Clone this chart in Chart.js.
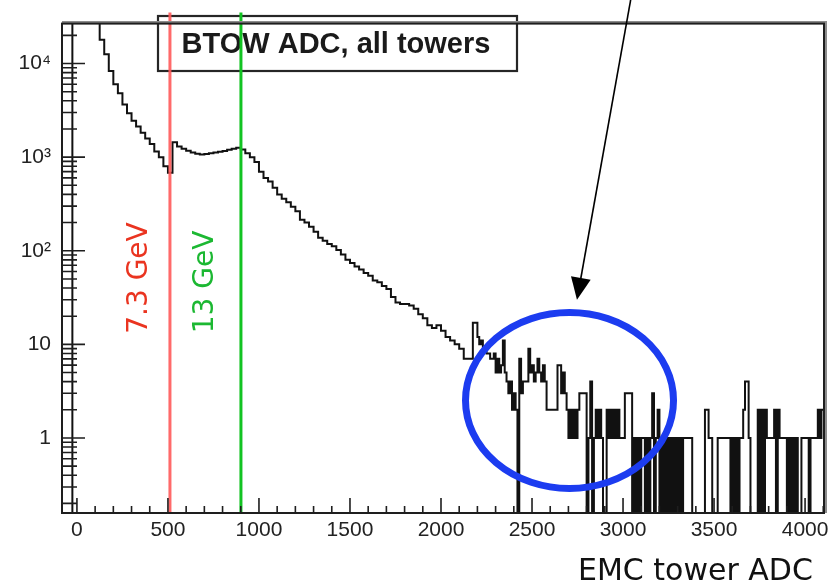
<!DOCTYPE html>
<html>
<head>
<meta charset="utf-8">
<script src="https://cdn.jsdelivr.net/npm/chart.js@4.4.1/dist/chart.umd.min.js"></script>
<style>
  html, body { margin: 0; padding: 0; background: #fff; }
</style>
</head>
<body>
<canvas id="adc" width="839" height="586"></canvas>
<script>
// BTOW ADC spectrum, all towers, log y

// coarse bins, 25 ADC wide, from -25 up to 2200
const coarseStart = -25;
const coarseWidth = 25;
const coarseCounts = [
  60000, 250000, 180000, 110000, 70000, 40000,
  18000, 12600, 8300, 6000, 4800, 3650, 2950, 2450, 2130, 1820, 1580, 1380, 1150, 1000,
  800, 680,
  1440, 1300, 1230, 1170, 1120, 1090, 1070, 1080, 1100, 1120, 1140, 1160, 1200, 1230, 1260,
  1210, 1100, 1000, 890, 700, 600, 550, 470, 400, 360, 330, 295,
  265, 215, 200, 180, 160, 138, 128, 118, 112, 102, 91, 80,
  74, 68, 63, 58, 54, 48, 46, 42, 39, 32, 28, 27,
  27, 26, 24, 21, 19, 16, 15, 16, 14, 12, 11, 10,
  9, 7, 7, 17
];

// fine bins, 10 ADC wide, from 2200 up to 4100
const fineStart = 2200;
const fineWidth = 10;
const fineCounts = [
  12, 10, 11, 9, 9, 8, 8, 7, 7, 8,
  5, 7, 5, 6, 11, 5, 4, 3, 4, 2,
  3, 2, 0, 7, 3, 4, 4, 4, 9, 5,
  6, 4, 5, 7, 5, 4, 6, 4, 2, 2,
  2, 2, 2, 2, 6, 6, 3, 5, 3, 2,
  1, 2, 1, 2, 1, 2, 3, 3, 3, 3,
  0, 1, 4, 0, 1, 2, 1, 2, 1, 0,
  0, 2, 1, 2, 1, 2, 1, 2, 1, 1,
  1, 3, 3, 3, 3, 0, 1, 0, 1, 0,
  1, 1, 0, 1, 0, 1, 3, 0, 1, 2,
  0, 1, 0, 1, 0, 1, 0, 1, 0, 1,
  0, 1, 0, 1, 1, 1, 1, 1, 0, 0,
  0, 0, 0, 0, 0, 2, 2, 1, 1, 0,
  0, 0, 1, 1, 1, 1, 1, 1, 1, 0,
  1, 0, 1, 0, 1, 1, 2, 4, 4, 1,
  0, 0, 0, 0, 2, 0, 2, 0, 2, 1,
  1, 1, 1, 2, 0, 2, 1, 1, 1, 1,
  0, 1, 0, 1, 0, 1, 0, 0, 1, 1,
  1, 1, 0, 1, 1, 1, 1, 2, 1, 2
];

// trigger thresholds
const thresholdAdc = [511, 901];
const thresholdLabels = ['7.3 GeV', '13 GeV'];
const thresholdLineColors = ['rgba(255, 90, 90, 0.9)', '#12c322'];
const thresholdTextColors = ['#ea3420', '#1cb832'];

const xTickValues = [0, 500, 1000, 1500, 2000, 2500, 3000, 3500, 4000];
const yDecades = [1, 10, 100, 1000, 10000];
const yDecadeLabels = ['1', '10', '10\u00b2', '10\u00b3', '10\u2074'];

const X_MIN = -82, X_MAX = 4104;
const Y_MIN = 0.158, Y_MAX = 26700;

// minor log ticks 2..9 inside every decade
const yTickValues = [];
[0.1, 1, 10, 100, 1000, 10000].forEach(d => {
  for (let k = 1; k <= 9; k++) {
    const v = k * d;
    if (v >= Y_MIN && v <= Y_MAX) yTickValues.push(v);
  }
});

// step-histogram outline: one point per low edge, empty bins sit on the axis floor
function histPoints() {
  const pts = [{ x: coarseStart, y: Y_MIN }];
  coarseCounts.forEach((c, i) => pts.push({ x: coarseStart + i * coarseWidth, y: c > 0 ? c : Y_MIN }));
  fineCounts.forEach((c, i) => pts.push({ x: fineStart + i * fineWidth, y: c > 0 ? c : Y_MIN }));
  const last = fineCounts[fineCounts.length - 1];
  pts.push({ x: fineStart + fineCounts.length * fineWidth, y: last > 0 ? last : Y_MIN });
  return pts;
}

const thresholdSets = thresholdAdc.map((a, i) => ({
  data: [{ x: a, y: Y_MIN }, { x: a, y: 1e7 }],
  borderColor: thresholdLineColors[i],
  borderWidth: 3,
  pointRadius: 0,
  clip: { left: 0, right: 0, bottom: 0, top: 11 },
  order: 0
}));

const rootStyle = {
  id: 'rootStyle',
  beforeDatasetsDraw(chart) {
    const ctx = chart.ctx;
    const xs = chart.scales.x;
    ctx.save();
    // title box
    ctx.fillStyle = '#fff';
    ctx.fillRect(158, 16, 359, 55);
    ctx.lineWidth = 2.2;
    ctx.strokeStyle = '#262626';
    ctx.strokeRect(158, 16, 359, 55);
    ctx.font = 'bold 29px "Liberation Sans", Arial, sans-serif';
    ctx.fillStyle = '#1a1a1a';
    ctx.textAlign = 'center';
    ctx.textBaseline = 'middle';
    ctx.fillText('BTOW ADC, all towers', 336, 45);

    // vertical threshold labels
    const offsets = [-30, -35];
    const centersY = [278, 282];
    ctx.font = '28px "Comic Sans MS", "DejaVu Sans", sans-serif';
    thresholdAdc.forEach((a, i) => {
      ctx.save();
      ctx.translate(xs.getPixelForValue(a) + offsets[i], centersY[i]);
      ctx.rotate(-Math.PI / 2);
      ctx.fillStyle = thresholdTextColors[i];
      ctx.fillText(thresholdLabels[i], 0, 0);
      ctx.restore();
    });
    ctx.restore();
  },
  afterDatasetsDraw(chart) {
    const ctx = chart.ctx;
    const xs = chart.scales.x, ys = chart.scales.y;
    const { left, right, top, bottom } = chart.chartArea;
    ctx.save();

    // frame
    ctx.strokeStyle = '#8c8c8c';
    ctx.lineWidth = 3;
    ctx.beginPath();
    ctx.moveTo(left, top - 1);
    ctx.lineTo(right + 1.5, top - 1);
    ctx.lineTo(right + 1.5, bottom);
    ctx.stroke();
    ctx.strokeStyle = '#1e1e1e';
    ctx.lineWidth = 2;
    ctx.strokeRect(left, top, right - left, bottom - top);

    // inward ticks
    ctx.lineWidth = 1.6;
    ctx.beginPath();
    for (let v = 0; v <= X_MAX; v += 100) {
      const px = xs.getPixelForValue(v);
      const len = v % 500 === 0 ? 15 : 7;
      ctx.moveTo(px, bottom);
      ctx.lineTo(px, bottom - len);
    }
    yTickValues.forEach(v => {
      const py = ys.getPixelForValue(v);
      const len = yDecades.includes(v) ? 23 : 15;
      ctx.moveTo(left, py);
      ctx.lineTo(left + len, py);
    });
    ctx.stroke();

    // highlighted tail region
    ctx.strokeStyle = '#1c3cf0';
    ctx.lineWidth = 7;
    ctx.beginPath();
    ctx.ellipse(xs.getPixelForValue(2706), ys.getPixelForValue(2.52), 104, 88, 0, 0, Math.PI * 2);
    ctx.stroke();

    // pointer arrow
    const tipX = xs.getPixelForValue(2747), tipY = ys.getPixelForValue(30);
    const fromX = 631, fromY = -2;
    const ang = Math.atan2(tipY - fromY, tipX - fromX);
    ctx.strokeStyle = '#000';
    ctx.fillStyle = '#000';
    ctx.lineWidth = 1.6;
    ctx.beginPath();
    ctx.moveTo(fromX, fromY);
    ctx.lineTo(tipX - 18 * Math.cos(ang), tipY - 18 * Math.sin(ang));
    ctx.stroke();
    ctx.beginPath();
    ctx.moveTo(tipX, tipY);
    ctx.lineTo(tipX - 22 * Math.cos(ang) + 10 * Math.sin(ang), tipY - 22 * Math.sin(ang) - 10 * Math.cos(ang));
    ctx.lineTo(tipX - 22 * Math.cos(ang) - 10 * Math.sin(ang), tipY - 22 * Math.sin(ang) + 10 * Math.cos(ang));
    ctx.closePath();
    ctx.fill();

    // axis title
    ctx.font = '30px "Comic Sans MS", "DejaVu Sans", sans-serif';
    ctx.fillStyle = '#111';
    ctx.textAlign = 'left';
    ctx.textBaseline = 'alphabetic';
    ctx.fillText('EMC tower ADC', 578, 580);
    ctx.restore();
  }
};

new Chart(document.getElementById('adc').getContext('2d'), {
  type: 'line',
  data: {
    datasets: [
      {
        data: histPoints(),
        stepped: 'before',
        borderColor: '#111',
        borderWidth: 2,
        pointRadius: 0,
        fill: false,
        order: 1
      },
      ...thresholdSets
    ]
  },
  options: {
    responsive: false,
    animation: false,
    events: [],
    layout: { padding: { top: 11, right: 15, left: 0, bottom: 0 } },
    plugins: {
      legend: { display: false },
      tooltip: { enabled: false }
    },
    scales: {
      x: {
        type: 'linear',
        min: X_MIN,
        max: X_MAX,
        afterBuildTicks: s => { s.ticks = xTickValues.map(v => ({ value: v })); },
        afterFit: s => { s.height = 73; },
        grid: { display: false, drawTicks: false },
        border: { display: false },
        ticks: {
          autoSkip: false,
          maxRotation: 0,
          padding: 5,
          color: '#222',
          font: { family: '"Liberation Sans", Arial, sans-serif', size: 21 },
          callback: v => String(v)
        }
      },
      y: {
        type: 'logarithmic',
        min: Y_MIN,
        max: Y_MAX,
        afterBuildTicks: s => { s.ticks = yTickValues.map(v => ({ value: v })); },
        afterFit: s => { s.width = 62; },
        grid: { display: false, drawTicks: false },
        border: { display: false },
        ticks: {
          autoSkip: false,
          padding: 11,
          color: '#222',
          font: { family: '"Liberation Sans", Arial, sans-serif', size: 21 },
          callback: v => {
            const i = yDecades.indexOf(v);
            return i >= 0 ? yDecadeLabels[i] : '';
          }
        }
      }
    }
  },
  plugins: [rootStyle]
});
</script>
</body>
</html>
